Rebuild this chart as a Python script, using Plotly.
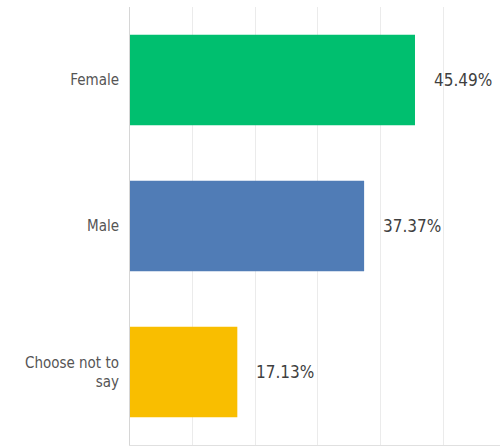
import plotly.graph_objects as go

categories = ["Female", "Male", "Choose not to<br>say"]
values = [45.49, 37.37, 17.13]
value_labels = ["45.49%", "37.37%", "17.13%"]
colors = ["#00BF6F", "#507CB6", "#F9BE00"]

FONT = "DejaVu Sans Condensed, Roboto Condensed, Roboto, Arial"

fig = go.Figure()
fig.add_trace(go.Bar(
    x=values, y=categories, orientation="h",
    marker=dict(color=colors, line=dict(width=0)),
    hoverinfo="skip",
))

for c, v, t in zip(categories, values, value_labels):
    fig.add_annotation(x=v, y=c, text=t, showarrow=False, xanchor="left",
                       xshift=17, font=dict(family=FONT, size=17, color="#3f3f3f"))

fig.update_layout(
    width=500, height=447,
    margin=dict(l=130, r=0, t=7, b=2),
    paper_bgcolor="white", plot_bgcolor="white",
    bargap=0.38,
    showlegend=False,
    xaxis=dict(range=[0, 59.06], dtick=10, showticklabels=False, showgrid=True,
               gridcolor="#EBEBEB", gridwidth=1, zeroline=False,
               showline=True, linecolor="#E0E0E0", linewidth=1, mirror=False, fixedrange=True),
    yaxis=dict(autorange="reversed", showline=True, linecolor="#D6D6D6", linewidth=1,
               ticks="", ticklabelstandoff=7, showgrid=False, zeroline=False,
               tickfont=dict(family=FONT, size=15, color="#555")),
)

fig.write_html("out.html", config={"displayModeBar": False},
               post_script="document.body.style.margin='0';document.body.style.padding='0';")
